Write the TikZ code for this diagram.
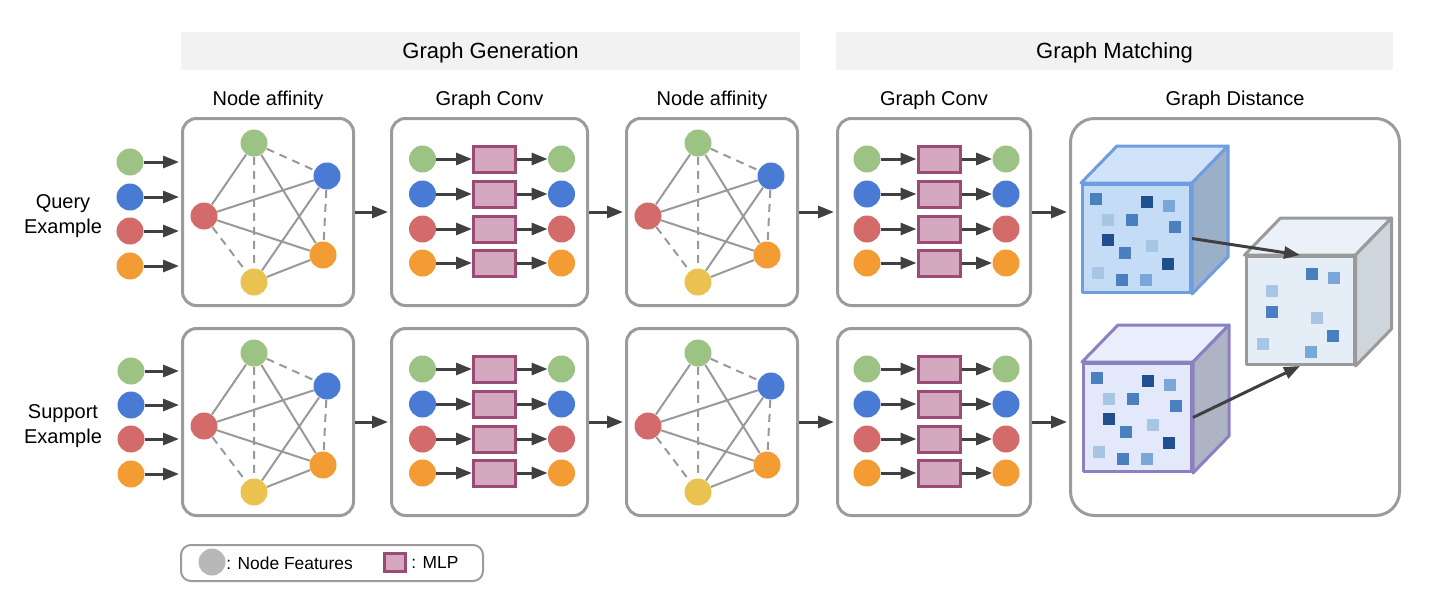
\documentclass[tikz,border=0pt]{standalone}
\usepackage{fontspec}
\setmainfont{Liberation Sans}
\usetikzlibrary{arrows.meta}
\definecolor{framegray}{HTML}{9B9B9B}
\definecolor{bannergray}{HTML}{F2F2F2}
\definecolor{linkgray}{HTML}{999999}
\definecolor{arrowgray}{HTML}{404040}
\definecolor{featgreen}{HTML}{9DC384}
\definecolor{featblue}{HTML}{4A7BD4}
\definecolor{featred}{HTML}{D26B6A}
\definecolor{featorange}{HTML}{F39C34}
\definecolor{featyellow}{HTML}{EAC24F}
\definecolor{featgray}{HTML}{B8B8B8}
\definecolor{mlpfill}{HTML}{D4A9C0}
\definecolor{mlpedge}{HTML}{9C4A76}
\definecolor{qedge}{HTML}{6F9DE0}
\definecolor{qfront}{HTML}{C5DCF7}
\definecolor{qtop}{HTML}{D0E3F8}
\definecolor{qside}{HTML}{9AAFC8}
\definecolor{sedge}{HTML}{8A80C2}
\definecolor{sfront}{HTML}{E3E8FA}
\definecolor{stop}{HTML}{E8EEFB}
\definecolor{sside}{HTML}{AFB4C4}
\definecolor{dedge}{HTML}{9A9A9A}
\definecolor{dfront}{HTML}{E5EEF7}
\definecolor{dtop}{HTML}{EAF1F8}
\definecolor{dside}{HTML}{CDD5DD}
\definecolor{sqmid}{HTML}{4A80C0}
\definecolor{sqdark}{HTML}{1F4F8C}
\definecolor{sqlight}{HTML}{A8C6E4}
\definecolor{sqsoft}{HTML}{7AA6D8}

\begin{document}
\begin{tikzpicture}[x=0.5pt,y=-0.5pt,
  panel/.style={draw=framegray, line width=1.5pt, rounded corners=7pt, minimum height=93.5pt, inner sep=0pt},
  banner/.style={fill=bannergray, minimum height=19pt, inner sep=0pt, text depth=0pt, font=\fontsize{11}{13}\selectfont},
  caption/.style={font=\fontsize{10}{12.5}\selectfont, align=center},
  keytext/.style={anchor=west, inner sep=0pt, font=\fontsize{8.7}{10}\selectfont},
  feat/.style={circle, fill=#1, inner sep=0pt, minimum size=13.5pt},
  mlp/.style={draw=mlpedge, fill=mlpfill, line width=1.5pt, minimum width=21pt, minimum height=13pt, inner sep=0pt},
  link/.style={draw=linkgray, line width=1pt},
  weak/.style={link, dash pattern=on 4pt off 3pt},
  flow/.style={-{Triangle[length=8pt,width=6pt]}, draw=arrowgray, line width=1.5pt, shorten >=1pt},
  cubeface/.style={draw=#1, line width=1.5pt, line join=round}]
\useasboundingbox (0,0) rectangle (1452,600);

\node[banner, minimum width=309.5pt] (gen) at (490.5,51) {Graph Generation};
\node[banner, minimum width=278.5pt] (match) at (1114.5,51) {Graph Matching};

\node[caption] (capaff1) at (268,100) {Node affinity};
\node[caption] (capconv1) at (489.5,100) {Graph Conv};
\node[caption] (capaff2) at (712,100) {Node affinity};
\node[caption] (capconv2) at (934,100) {Graph Conv};
\node[caption] (capdist) at (1235,100) {Graph Distance};
\node[caption] (query) at (63,216) {Query\\Example};
\node[caption] (support) at (63,426) {Support\\Example};

\node[panel, minimum width=85.5pt] (qaff1) at (268,212) {};
\node[panel, minimum width=98pt] (qconv1) at (489.5,212) {};
\node[panel, minimum width=85.5pt] (qaff2) at (712,212) {};
\node[panel, minimum width=96.5pt] (qconv2) at (934,212) {};
\node[panel, minimum width=85.5pt] (saff1) at (268,422) {};
\node[panel, minimum width=98pt] (sconv1) at (489.5,422) {};
\node[panel, minimum width=85.5pt] (saff2) at (712,422) {};
\node[panel, minimum width=96.5pt] (sconv2) at (934,422) {};
\node[panel, minimum width=164.5pt, minimum height=198.5pt, rounded corners=12pt] (dist) at (1235,317) {};

\foreach \c/\y [count=\i] in {featgreen/162,featblue/197,featred/231,featorange/266} {
  \node[feat=\c] (qin\i) at (130,\y) {};
  \draw[flow] (qin\i) -- (qin\i -| qaff1.west);
}
\foreach \c/\y [count=\i] in {featgreen/371,featblue/405,featred/439,featorange/474} {
  \node[feat=\c] (sin\i) at (131,\y) {};
  \draw[flow] (sin\i) -- (sin\i -| saff1.west);
}

\foreach \p in {qaff1,qaff2,saff1,saff2} {
  \node[feat=featgreen] (\p-g) at ([shift={(-14,-69)}]\p.center) {};
  \node[feat=featblue] (\p-b) at ([shift={(59,-36)}]\p.center) {};
  \node[feat=featred] (\p-r) at ([shift={(-64,4)}]\p.center) {};
  \node[feat=featorange] (\p-o) at ([shift={(55,43)}]\p.center) {};
  \node[feat=featyellow] (\p-y) at ([shift={(-14,70)}]\p.center) {};
  \draw[link] (\p-g) -- (\p-r) (\p-g) -- (\p-o) (\p-r) -- (\p-b) (\p-r) -- (\p-o) (\p-y) -- (\p-b) (\p-y) -- (\p-o);
  \draw[weak] (\p-g) -- (\p-b) (\p-g) -- (\p-y) (\p-r) -- (\p-y) (\p-b) -- (\p-o);
}

\foreach \p in {qconv1,qconv2,sconv1,sconv2} {
  \foreach \c/\dy [count=\i] in {featgreen/-53,featblue/-18,featred/17,featorange/51} {
    \node[feat=\c] (\p-in\i) at ([shift={(-67,\dy)}]\p.center) {};
    \node[mlp] (\p-mlp\i) at ([shift={(5,\dy)}]\p.center) {};
    \node[feat=\c] (\p-out\i) at ([shift={(72,\dy)}]\p.center) {};
    \draw[flow, shorten >=0pt] (\p-in\i) -- (\p-mlp\i);
    \draw[flow, shorten >=0pt] (\p-mlp\i) -- (\p-out\i);
  }
}

\draw[flow] (qaff1) -- (qconv1);
\draw[flow] (qconv1) -- (qaff2);
\draw[flow] (qaff2) -- (qconv2);
\draw[flow] (saff1) -- (sconv1);
\draw[flow] (sconv1) -- (saff2);
\draw[flow] (saff2) -- (sconv2);
\draw[flow] (qconv2.east) -- (qconv2.east -| dist.west);
\draw[flow] (sconv2.east) -- (sconv2.east -| dist.west);

\foreach \cb/\cx/\cy/\ce/\cf/\ct/\cs in {qcube/1136.5/238.5/qedge/qfront/qtop/qside,
    scube/1137.5/417.5/sedge/sfront/stop/sside, dcube/1300/310.5/dedge/dfront/dtop/dside} {
  \node[cubeface=\ce, fill=\cf, minimum size=54pt, inner sep=0pt] (\cb) at (\cx,\cy) {};
  \filldraw[cubeface=\ce, fill=\ct] (\cb.north west) -- ++(36,-37) -- ([shift={(36,-37)}]\cb.north east) -- (\cb.north east) -- cycle;
  \filldraw[cubeface=\ce, fill=\cs] (\cb.north east) -- ++(36,-37) -- ([shift={(36,-37)}]\cb.south east) -- (\cb.south east) -- cycle;
}
\foreach \cb in {qcube,scube} {
  \begin{scope}[shift={(\cb.north west)}]
    \foreach \sx/\sy/\sc in {15/16/sqmid,66/19/sqdark,88/23/sqsoft,27/37/sqlight,51/37/sqmid,94/44/sqmid,27/57/sqdark,
        44/70/sqmid,71/63/sqlight,87/81/sqdark,17/90/sqlight,41/97/sqmid,65/97/sqsoft}
      \fill[\sc] (\sx-6,\sy-6) rectangle (\sx+6,\sy+6);
  \end{scope}
}
\begin{scope}[shift={(dcube.north west)}]
  \foreach \sx/\sy/\sc in {67/19/sqmid,89/23/sqsoft,27/36/sqlight,27/57/sqmid,72/63/sqlight,88/81/sqmid,18/89/sqlight,66/97/sqsoft}
    \fill[\sc] (\sx-6,\sy-6) rectangle (\sx+6,\sy+6);
\end{scope}
\draw[flow, shorten >=0pt] (qcube.east) -- (dcube.north);
\draw[flow, shorten >=0pt] (scube.east) -- (dcube.south);

\node[panel, minimum width=151pt, minimum height=18pt, line width=1pt, rounded corners=5pt] (legend) at (332,563) {};
\node[feat=featgray] (keyfeat) at (212,562) {};
\node[keytext] (keyfeattext) at (226,563) {: Node Features};
\node[mlp, minimum width=10.5pt, minimum height=9pt] (keymlp) at (395,562.5) {};
\node[keytext] (keymlptext) at (411,563) {: MLP};
\end{tikzpicture}
\end{document}
